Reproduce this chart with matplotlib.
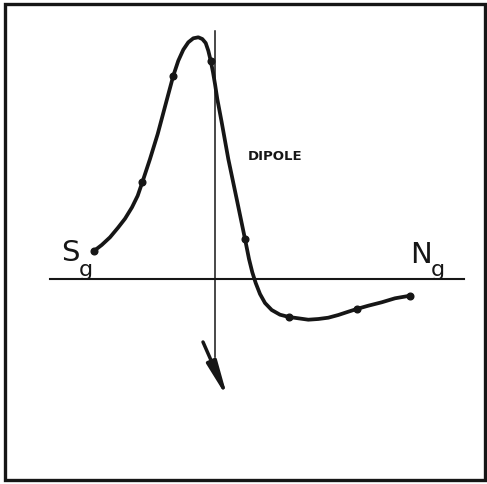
import matplotlib.pyplot as plt
from matplotlib.patches import Rectangle

# traced curve of the field, origin where the two axes cross
curve_x = [-12.07, -11.33, -10.5, -9.7, -9.0, -8.3, -7.73, -7.27, -6.5, -5.73,
           -4.93, -4.17, -3.67, -3.17, -2.67, -2.17, -1.67, -1.27, -0.93, -0.67,
           -0.43, -0.2, 0.0, 0.23, 0.67, 1.33, 2.17, 3.0, 3.4, 3.73,
           4.07, 4.5, 5.0, 5.67, 6.5, 7.4, 8.33, 9.33, 10.33, 11.33,
           12.33, 13.33, 14.17, 15.33, 16.67, 18.0, 19.5]
curve_y = [2.83, 3.4, 4.17, 5.13, 6.03, 7.17, 8.33, 9.67, 12.0, 14.5,
           17.5, 20.33, 21.83, 22.93, 23.67, 24.07, 24.17, 24.0, 23.6, 22.83,
           21.83, 20.67, 19.5, 18.0, 15.67, 12.0, 8.0, 4.0, 2.0, 0.67,
           -0.4, -1.5, -2.4, -3.1, -3.57, -3.8, -3.93, -4.07, -4.0, -3.87,
           -3.6, -3.27, -3.0, -2.67, -2.33, -1.93, -1.67]

# measured points marked on the curve
dot_x = [-12.07, -7.27, -4.17, -0.43, 3.0, 7.4, 14.17, 19.5]
dot_y = [2.83, 9.67, 20.33, 21.83, 4.0, -3.8, -3.0, -1.67]

ink = '#161616'

fig = plt.figure(figsize=(4.87, 4.85), dpi=100)
ax = fig.add_axes([0, 0, 1, 1])
ax.set_xlim(-21.5, 27.2)
ax.set_ylim(-20.5, 28.0)
ax.axis('off')

# frame
ax.add_patch(Rectangle((-21.0, -20.1), 48.0, 47.65, fill=False,
                       lw=2.4, ec=ink, zorder=1))

# axes
ax.plot([-16.5, 24.9], [0, 0], color=ink, lw=1.5, zorder=2)
ax.plot([0, 0], [24.8, -7.8], color=ink, lw=1.1, zorder=2)

# direction of the dipole
ax.annotate('', xy=(1.3, -12.0), xytext=(-1.2, -6.3),
            arrowprops=dict(arrowstyle='-|>,head_length=2.1,head_width=0.3',
                            lw=2.5, color=ink, shrinkA=0, shrinkB=0))

ax.plot(curve_x, curve_y, color=ink, lw=2.7, solid_joinstyle='round',
        solid_capstyle='round', zorder=3)
ax.plot(dot_x, dot_y, 'o', color=ink, ms=4.8, zorder=4)

lab = dict(color=ink, family=['Liberation Sans Narrow', 'DejaVu Sans'])
ax.text(-14.5, 2.7, 'S', fontsize=21, ha='center', va='center', **lab)
ax.text(-12.9, 0.45, 'g', fontsize=16, ha='center', va='baseline', **lab)
ax.text(20.6, 2.5, 'N', fontsize=21, ha='center', va='center', **lab)
ax.text(22.3, 0.45, 'g', fontsize=16, ha='center', va='baseline', **lab)

ax.text(6.05, 12.4, 'DIPOLE', fontsize=9.5, fontweight='bold',
        ha='center', va='center', color=ink)

fig.savefig('out.png', dpi=100)
